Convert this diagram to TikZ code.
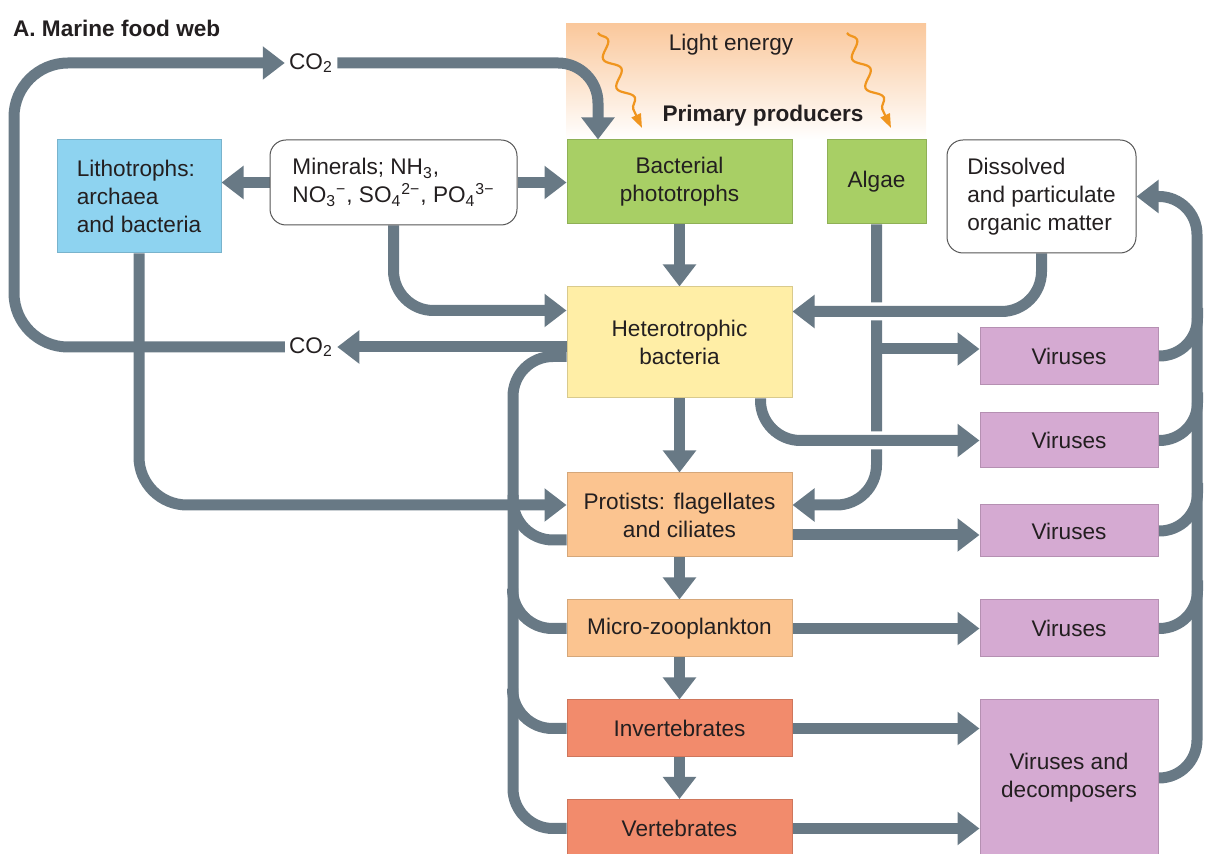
\documentclass[tikz,border=0pt]{standalone}
\usepackage{fontspec}
\setmainfont{Liberation Sans}
\usepackage{xcolor}
\usepackage{tikz}
\usetikzlibrary{arrows.meta,calc,backgrounds,decorations.pathmorphing}

\definecolor{flowgray}{HTML}{687985}
\definecolor{ink}{HTML}{231F20}
\definecolor{boxline}{HTML}{555555}
\definecolor{lithblue}{HTML}{8ED3F0}
\definecolor{prodgreen}{HTML}{A8CF65}
\definecolor{hetyellow}{HTML}{FFEEA6}
\definecolor{protorange}{HTML}{FBC490}
\definecolor{animred}{HTML}{F28B6C}
\definecolor{virpink}{HTML}{D5AAD2}
\definecolor{panelorange}{HTML}{FAC89C}
\definecolor{sunorange}{HTML}{F0951E}

\newcommand{\labelfont}{\fontsize{11.3}{14}\selectfont}

\tikzset{
  every node/.style={font=\labelfont, text=ink},
  box/.style={rectangle, draw=#1!85!black, fill=#1, line width=0.5pt, inner sep=0pt, align=center},
  flow/.style={draw=flowgray, line width=5.5pt, rounded corners=20pt},
  flowhead/.style={-{Triangle[length=11pt,width=16pt]}},
  halo/.style={preaction={draw=white, line width=9pt}},
  ray/.style={draw=sunorange, line width=1.1pt, decorate,
    decoration={snake, amplitude=3.2pt, segment length=16pt, post length=7pt},
    -{Triangle[length=7pt,width=5pt]}},
}

\begin{document}
\begin{tikzpicture}[x=0.5pt,y=0.5pt]
  \useasboundingbox (0,0) rectangle (1206,-854);
  \node[anchor=west, font=\labelfont\bfseries] (title) at (6,-28) {A. Marine food web};
  \node[inner sep=2pt] (co2a) at (311,-63) {CO\textsubscript{2}};
  \node[inner sep=2pt] (co2b) at (311,-347) {CO\textsubscript{2}};
  \node (light) at (731,-45) {Light energy};
  \node[font=\labelfont\bfseries] (prim) at (763,-116) {Primary producers};
  % boxes, sizes in pt = half the pixels
  \node[box=lithblue, minimum width=82pt, minimum height=56.5pt, align=left] (lith) at (139,-196.5)
    {Lithotrophs:\\archaea\\and bacteria};
  \node[box=white, draw=boxline, rounded corners=8pt, minimum width=123.5pt, minimum height=42.5pt, align=left]
    (minerals) at (393.5,-182.5)
    {Minerals; NH\textsubscript{3},\\NO\textsubscript{3}\textsuperscript{−}, SO\textsubscript{4}\textsuperscript{2−}, PO\textsubscript{4}\textsuperscript{3−}};
  \node[box=prodgreen, minimum width=112.5pt, minimum height=42pt] (bact) at (679.5,-182) {Bacterial\\phototrophs};
  \node[box=prodgreen, minimum width=49.5pt, minimum height=42pt] (algae) at (876.5,-182) {Algae};
  \node[box=white, draw=boxline, rounded corners=8pt, minimum width=94.5pt, minimum height=56.5pt, align=left]
    (dom) at (1041.5,-196.5) {Dissolved\\and particulate\\organic matter};
  \node[box=hetyellow, minimum width=112.5pt, minimum height=55.5pt] (het) at (679.5,-342.5) {Heterotrophic\\bacteria};
  \node[box=protorange, minimum width=112.5pt, minimum height=42pt] (prot) at (679.5,-515) {Protists: flagellates\\and ciliates};
  \node[box=protorange, minimum width=112.5pt, minimum height=28.5pt] (micro) at (679.5,-628.5) {Micro-zooplankton};
  \node[box=animred, minimum width=112.5pt, minimum height=28.5pt] (inv) at (679.5,-728.5) {Invertebrates};
  \node[box=animred, minimum width=112.5pt, minimum height=29pt] (vert) at (679.5,-828.5) {Vertebrates};
  \foreach \n/\y/\h in {1/356/28.5, 2/440.5/27.5, 3/531/26, 4/628.5/28.5}
    \node[box=virpink, minimum width=89pt, minimum height=\h pt] (vir\n) at (1069,-\y) {Viruses};
  \node[box=virpink, minimum width=89pt, minimum height=78pt] (virdec) at (1069,-778) {Viruses and\\decomposers};

  \begin{scope}[on background layer]
    \shade[top color=panelorange, bottom color=white] (566,-24) rectangle (926,-140);
    \draw[ray] (598,-33) -- (642,-128);
    \draw[ray] (847,-33) -- (891,-128);
    % carbon dioxide loop
    \draw[flow,flowhead,rounded corners=27pt] (co2b.west) -- (14,-347) -- (14,-63) -- (co2a.west);
    \draw[flow,flowhead] (co2a.east) -| (598,0 |- bact.north);
    % minerals
    \draw[flow,flowhead] (minerals.west) -- (minerals.west -| lith.east);
    \draw[flow,flowhead] (minerals.east) -- (minerals.east -| bact.west);
    \draw[flow,flowhead] (minerals.south) |- ($(het.west)+(0,32)$);
    \draw[flow,flowhead] (bact.south) -- (het.north);
    % algae
    \coordinate (a1) at ($(vir1.west)+(0,7)$);
    \draw[flow,flowhead] (algae.south) |- ($(prot.east)+(0,10)$);
    \draw[flow,flowhead] (algae.south |- a1) -- (a1);
    \draw[flow,flowhead,halo] (dom.south) |- ($(het.east)+(0,31)$);
    \draw[flow,flowhead,halo] ($(het.south east)+(-32,0)$) |- (vir2.west);
    % respiration back to CO2
    \draw[flow,flowhead] (het.west |- co2b.east) -- (co2b.east);
    \draw[flow] ($(het.west)+(0,-14)$) -| (513,0 |- vert.west) -- (vert.west);
    \draw[flow] ($(prot.west)+(0,-25)$) -| (513,-495);
    \foreach \b in {micro,inv} \draw[flow] (\b.west) -| ++(-54,40);
    % lithotrophs
    \draw[flow,flowhead,rounded corners=24pt] (lith.south) |- ($(prot.west)+(0,10)$);
    % food chain
    \foreach \a/\b in {het/prot, prot/micro, micro/inv, inv/vert}
      \draw[flow,flowhead] (\a.south) -- (\b.north);
    % to viruses
    \coordinate (p3) at ($(prot.east)+(0,-20)$);
    \draw[flow,flowhead] (p3) -- (p3 -| vir3.west);
    \draw[flow,flowhead] (micro.east) -- (vir4.west);
    \draw[flow,flowhead] (inv.east) -- (inv.east -| virdec.west);
    \draw[flow,flowhead] (vert.east) -- (vert.east -| virdec.west);
    % back to organic matter
    \draw[flow,flowhead,rounded corners=19pt] (virdec.east) -| (1197,0 |- dom.east) -- (dom.east);
    \foreach \v in {vir1,vir2,vir3,vir4} \draw[flow,rounded corners=19pt] (\v.east) -| ++(39,48);
  \end{scope}
\end{tikzpicture}
\end{document}
